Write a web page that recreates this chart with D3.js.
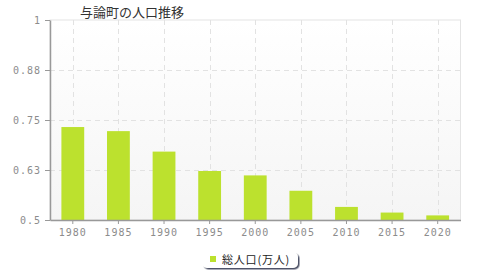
<!DOCTYPE html>
<html><head><meta charset="utf-8">
<script src="https://cdn.jsdelivr.net/npm/d3@7"></script>
<style>body{margin:0;background:#fff;}svg{display:block;font-family:"DejaVu Sans",sans-serif;}</style>
</head><body><svg id="c" width="480" height="280"></svg>
<script>
const title = "与論町の人口推移";
const categories = ["1980","1985","1990","1995","2000","2005","2010","2015","2020"];
const population = [0.7324, 0.7222, 0.6710, 0.6225, 0.6115, 0.5731, 0.5327, 0.5186, 0.5115];
const yTicks = [0.5, 0.625, 0.75, 0.875, 1];
const yTickLabels = ["0.5", "0.63", "0.75", "0.88", "1"];
const seriesName = "総人口(万人)";

const svg = d3.select("#c");
const m = {l:50, r:19.5, t:20, b:60};
const W = 480, H = 280;
const x = d3.scaleBand().domain(categories).range([m.l, W - m.r]).paddingInner(0.5).paddingOuter(0.25);
const y = d3.scaleLinear().domain([0.5, 1]).range([H - m.b, m.t]);

const defs = svg.append("defs");
const g = defs.append("linearGradient").attr("id","bg").attr("x1",0).attr("y1",0).attr("x2",0).attr("y2",1);
g.append("stop").attr("offset","0%").attr("stop-color","#ffffff");
g.append("stop").attr("offset","100%").attr("stop-color","#f5f5f5");
const sh = defs.append("filter").attr("id","sh").attr("x","-10%").attr("y","-30%").attr("width","130%").attr("height","190%");
sh.append("feDropShadow").attr("dx",1.5).attr("dy",1.5).attr("stdDeviation",0.6).attr("flood-color","#3a3f5a").attr("flood-opacity",0.9);

svg.append("rect").attr("x", m.l).attr("y", m.t).attr("width", W - m.r - m.l).attr("height", H - m.b - m.t)
  .attr("fill","url(#bg)").attr("stroke","#e4e4e4").attr("stroke-width",1);

const grid = svg.append("g");
grid.selectAll("line.h").data(yTicks.slice(1, -1)).join("line")
  .attr("x1", m.l).attr("x2", W - m.r).attr("y1", d => Math.round(y(d)) + 0.5).attr("y2", d => Math.round(y(d)) + 0.5)
  .attr("stroke","#e2e2e2").attr("stroke-dasharray","5,4");
grid.selectAll("line.v").data(categories).join("line")
  .attr("x1", d => Math.round(x(d) + x.bandwidth()/2) + 0.5).attr("x2", d => Math.round(x(d) + x.bandwidth()/2) + 0.5)
  .attr("y1", m.t).attr("y2", H - m.b)
  .attr("stroke","#e2e2e2").attr("stroke-dasharray","5,4");

svg.append("g").selectAll("rect").data(population).join("rect")
  .attr("x", (d,i) => x(categories[i])).attr("width", x.bandwidth())
  .attr("y", d => y(d)).attr("height", d => y(0.5) - y(d))
  .attr("fill","#bce12e");

const yAxis = svg.append("g").attr("transform", `translate(${m.l},0)`)
  .call(d3.axisLeft(y).tickValues(yTicks).tickFormat((d,i) => yTickLabels[i]).tickSize(5).tickSizeOuter(0).tickPadding(4));
const xAxis = svg.append("g").attr("transform", `translate(0,${H - m.b})`)
  .call(d3.axisBottom(x).tickSize(4).tickSizeOuter(0).tickPadding(5));
[yAxis, xAxis].forEach(a => {
  a.select(".domain").attr("stroke","#999").attr("stroke-width",1.5);
  a.selectAll(".tick line").attr("stroke","#999");
  a.selectAll(".tick text").attr("fill","#8c8c8c").attr("font-size",10).attr("letter-spacing","1px")
    .attr("font-family","'DejaVu Sans Mono',monospace");
});

svg.append("text").attr("x", 132).attr("y", 17).attr("text-anchor","middle")
  .attr("font-family","'Noto Sans CJK JP',sans-serif").attr("font-size",13).attr("fill","#333").text(title);

const lg = svg.append("g");
lg.append("rect").attr("x",202).attr("y",252).attr("width",96).attr("height",16).attr("rx",5)
  .attr("fill","#fff").attr("filter","url(#sh)");
lg.append("rect").attr("x",210).attr("y",256).attr("width",6).attr("height",6).attr("fill","#bce12e");
lg.append("text").attr("x",222).attr("y",264).attr("font-family","'Noto Sans CJK JP',sans-serif")
  .attr("font-size",11).attr("letter-spacing","0.8px").attr("fill","#222").text(seriesName);
</script></body></html>
